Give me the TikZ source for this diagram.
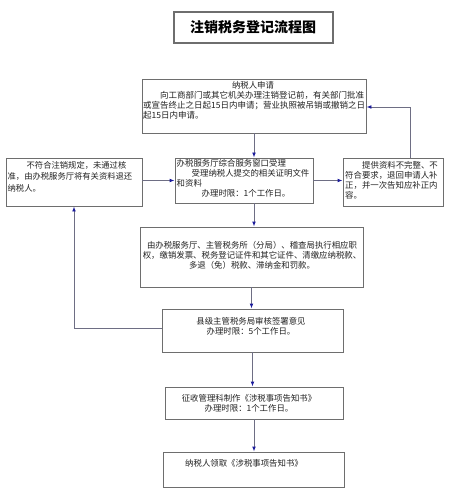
\documentclass[tikz,border=0pt]{standalone}
\usepackage{fontspec}
\setmainfont{Noto Sans CJK SC}
\usetikzlibrary{arrows.meta,calc}
\definecolor{boxgray}{HTML}{6E6E6E}
\definecolor{linegray}{HTML}{6E6E84}
\definecolor{tipblue}{HTML}{1C1C9C}
\definecolor{txtc}{HTML}{222222}
\tikzset{
  box/.style={draw=boxgray, line width=0.9bp, inner sep=0pt, fill=white},
  titlebox/.style={draw=boxgray, line width=1.3bp, inner sep=0pt},
  txt/.style={inner sep=0pt, text=txtc, font=\fontsize{8.4bp}{10bp}\selectfont},
  arr/.style={draw=linegray, line width=0.9bp, -{Latex[length=5bp,width=3.8bp,color=tipblue]}}
}
\begin{document}
\begin{tikzpicture}[x=1bp,y=-1bp]
\useasboundingbox[fill=white] (0,0) rectangle (450,500);
% title
\node[titlebox, minimum width=159bp, minimum height=31bp] (title) at (253.5,27.5) {};
\node[inner sep=0pt, font=\fontsize{14bp}{16bp}\selectfont\bfseries] (titletext) at (253,27.5) {注销税务登记流程图};
% boxes
\node[box, minimum width=224bp, minimum height=54bp] (b1) at (254,106) {};
\node[box, minimum width=136bp, minimum height=48bp] (left) at (74,182) {};
\node[box, minimum width=138bp, minimum height=45bp] (mid) at (244,180.5) {};
\node[box, minimum width=100bp, minimum height=48bp] (right) at (393,182) {};
\node[box, minimum width=223bp, minimum height=60bp] (b5) at (251.5,257) {};
\node[box, minimum width=181bp, minimum height=43bp] (b6) at (252.5,330.5) {};
\node[box, minimum width=178bp, minimum height=32bp] (b7) at (254,403) {};
\node[box, minimum width=181bp, minimum height=35bp] (b8) at (253.5,469.5) {};
% texts
\node[txt] (t1a) at (253,85) {纳税人申请};
\node[txt, font=\fontsize{8.5bp}{10bp}\selectfont, align=left, anchor=west] (t1b) at (143,105)
  {\hspace*{17bp}向工商部门或其它机关办理注销登记前，有关部门批准\\
   或宣告终止之日起15日内申请；营业执照被吊销或撤销之日\\
   起15日内申请。};
\node[txt, font=\fontsize{8.3bp}{11.5bp}\selectfont, align=left, anchor=west] (tl) at (7.5,176.7)
  {\hspace*{19bp}不符合注销规定，未通过核\\
   准，由办税服务厅将有关资料退还\\
   纳税人。};
\node[txt, align=left, anchor=west] (tm) at (176.5,178.5)
  {办税服务厅综合服务窗口受理\\
   \hspace*{15bp}受理纳税人提交的相关证明文件\\
   和资料\\
   \hspace*{25bp}办理时限：1个工作日。};
\node[txt, align=left, anchor=west] (tr) at (345,180)
  {\hspace*{17bp}提供资料不完整、不\\
   符合要求，退回申请人补\\
   正，并一次告知应补正内\\
   容。};
\node[txt, align=center] (t5) at (252,255)
  {由办税服务厅、主管税务所（分局）、稽查局执行相应职\\
   权，缴销发票、税务登记证件和其它证件、清缴应纳税款、\\
   多退（免）税款、滞纳金和罚款。};
\node[txt, align=center] (t6) at (251,326)
  {县级主管税务局审核签署意见\\
   办理时限：5个工作日。};
\node[txt, align=center] (t7) at (249,403.5)
  {征收管理科制作《涉税事项告知书》\\
   办理时限：1个工作日。};
\node[txt] (t8) at (244,463) {纳税人领取《涉税事项告知书》};
% connectors
\coordinate (rtop) at ($(right.north west)!0.67!(right.north east)$);
\draw[arr] (b1.south) -- (b1.south |- mid.north);
\draw[arr] (left.east |- mid.west) -- (mid.west);
\draw[arr] (mid.east) -- (mid.east -| right.west);
\draw[arr] (rtop) |- ($(b1.east)+(0,1)$);
\draw[arr] (b1.south |- mid.south) -- (b1.south |- b5.north);
\draw[arr] (b5.south) -- (b5.south |- b6.north);
\draw[arr] ($(b6.west)+(0,-2.5)$) -| (left.south);
\draw[arr] (b6.south) -- (b6.south |- b7.north);
\draw[arr] (b7.south) -- (b7.south |- b8.north);
\end{tikzpicture}
\end{document}
